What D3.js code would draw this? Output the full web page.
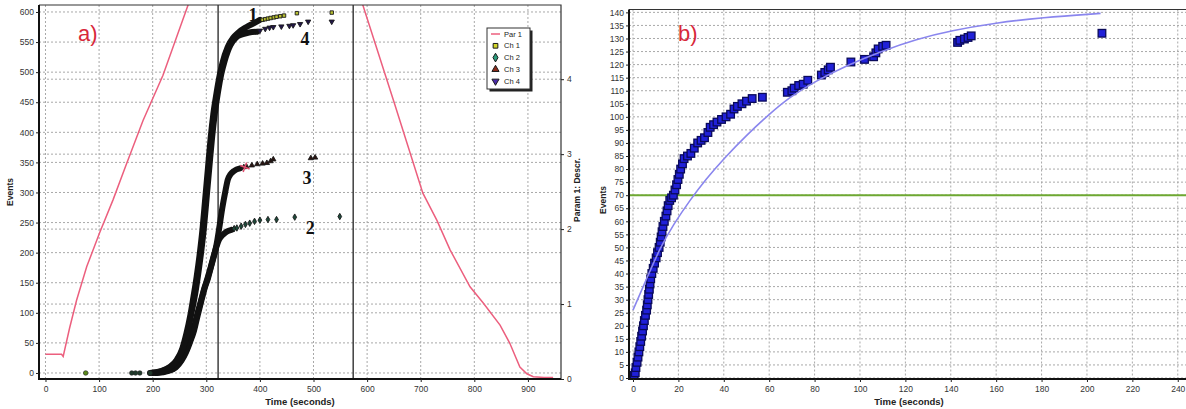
<!DOCTYPE html>
<html>
<head>
    <meta charset="utf-8">
    <script src="https://d3js.org/d3.v7.min.js"></script>
    <style>
        body { margin: 0; background: #fff; }
        text { font-family: "Liberation Sans", Arial, sans-serif; }
    </style>
</head>
<body>
<script>
    // ---- panel a) data ----
    var timeTicksA = [0, 100, 200, 300, 400, 500, 600, 700, 800, 900];
    var eventTicksA = [0, 50, 100, 150, 200, 250, 300, 350, 400, 450, 500, 550, 600];
    var paramTicksA = [0, 1, 2, 3, 4];
    var cursorsA = [322, 574];

    // Par 1 (right axis units), [time, value]
    var par1 = [[0,0.33],[30,0.33],[33,0.30],[45,0.68],[58,1.05],[77,1.5],[101,1.95],[126,2.39],
        [150,2.85],[182,3.45],[219,4.05],[266,4.99],[445,8.2],[592,4.99],[650,3.7],[704,2.48],
        [730,2.12],[755,1.72],[792,1.23],[817,1.01],[848,0.72],[866,0.48],[885,0.16],[898,0.07],
        [910,0.03],[930,0.02],[947,0.02]];

    // channels: dense part (drawn as a thick trace) and sparse tail points, [time, events]
    var ch1Curve = [[195,0],[215,3],[232,10],[245,22],[255,40],[263,66],[270,95],[275,121],[282,160],
        [288,200],[293,240],[298,290],[303,340],[308,390],[313,430],[319,465],[325,495],[330,515],
        [340,542],[350,557],[360,566],[375,575],[390,582],[400,587]];
    var ch1Dots = [[405,587],[410,588],[415,589],[420,590],[426,591],[431,592],[438,593],[445,594],[469,598],[534,599]];
    var ch4Curve = [[200,0],[220,4],[236,12],[249,26],[258,45],[266,70],[272,98],[278,125],[285,165],
        [291,205],[296,245],[301,295],[306,345],[311,393],[316,432],[322,468],[328,497],[334,518],
        [345,545],[355,557],[368,563],[380,566],[394,567]];
    var ch4Dots = [[400,569],[410,572],[418,574],[425,575],[440,576],[455,577],[462,578],[475,580],[490,584],[534,584]];
    var ch2Curve = [[205,0],[225,3],[240,8],[252,20],[260,33],[268,50],[275,68],[282,94],[290,120],
        [296,140],[301,154],[308,175],[314,195],[319,210],[324,222],[330,229],[338,235],[347,238]];
    var ch2Dots = [[352,240],[357,241],[365,244],[373,247],[381,249],[390,252],[400,254],[415,255],
        [431,255],[465,259],[549,260]];
    var ch3Curve = [[208,0],[228,3],[243,9],[254,21],[262,34],[270,52],[277,70],[284,96],[291,121],
        [297,141],[303,157],[309,177],[315,197],[319,213],[324,240],[330,275],[336,304],[340,321],
        [345,330],[352,336],[363,340]];
    var ch3Dots = [[370,342],[375,343],[385,345],[395,347],[405,348],[413,349],[420,352],[425,355],[495,357],[503,358]];
    var zeroDots = [[75,0],[161,0],[168,0],[176,0],[195,0]];
    var crossMark = [372, 342];

    var curveLabels = [
        {text: "1", t: 387, ev: 595},
        {text: "4", t: 484, ev: 555},
        {text: "3", t: 488, ev: 324},
        {text: "2", t: 494, ev: 241}
    ];
    var legendItems = ["Par 1", "Ch 1", "Ch 2", "Ch 3", "Ch 4"];

    // ---- panel b) data ----
    var timeTicksB = [0, 20, 40, 60, 80, 100, 120, 140, 160, 180, 200, 220, 240];
    var eventTicksB = d3.range(0, 141, 5);
    var thresholdB = 70;
    var blueT = [0,0.5,1,1.3,1.8,2.2,2.6,3,3.4,3.8,4.2,4.6,5,5.5,6,6.3,6.6,6.9,7.2,7.5,7.8,8.3,8.9,9.5,
        10.2,10.8,11.5,12,12.4,12.8,13.2,13.8,14.5,15,15.5,16.2,17,17.8,18.5,19.2,19.8,20.4,21,21.8,
        22.5,24,25.5,27,28.5,30,31.5,33,34,35.5,37,39,41,43,44.5,46,48,50,52.5,57,68,70,71,73,75,77,
        83,84.5,86,87,96,102,106,107,108,110,111.5,143,144,146,147.6,149,206.6];
    var blueV = [0,1,2,4,6,8,10,12,14,16,18,20,22,24,26,28,30,32,34,36,38,40,42,44,
        46,48,50,52,54,56,58,60,62,64,66,68,69,70,72,74,76,78,80,82,
        84,85,86,88,90,91,92,94,96,97,98,99,100,101,103,104,105,106,107,107.5,109.4,110,111,112,112.5,114,
        116,117,118,119,121,122,123,124.5,126,127,127.4,128.5,129.3,129.8,130.4,131,132];
    var fitT = [0,6,12,18,25,32,40,50,60,69,80,95,109,125,140,160,180,206];
    var fitV = [26,38,50,59,68,76,84,93,101,107.5,113.5,120,125,129.8,133,136,138,139.6];

    var W = 1186, H = 409;
    var svg = d3.select("body").append("svg")
        .attr("width", W)
        .attr("height", H);

    var defs = svg.append("defs");
    defs.append("clipPath").attr("id", "clipA")
        .append("rect").attr("x", 39).attr("y", 5).attr("width", 522).attr("height", 374);
    defs.append("clipPath").attr("id", "clipB")
        .append("rect").attr("x", 629).attr("y", 9.5).attr("width", 580).attr("height", 369.5);

    function dotGrid(g, x1, x2, y1, y2) {
        g.append("line")
            .attr("x1", x1).attr("x2", x2).attr("y1", y1).attr("y2", y2)
            .attr("stroke", "#a8a8a8")
            .attr("stroke-width", 1)
            .attr("stroke-dasharray", "2,2");
    }

    // ================= panel a) =================
    var xA = d3.scaleLinear().domain([-12.1, 961.7]).range([39, 561]);
    var yA = d3.scaleLinear().domain([-10, 611.6]).range([379, 5]);
    var pA = d3.scaleLinear().domain([0, 4.99]).range([379, 5]);

    var gridA = svg.append("g");
    timeTicksA.forEach(function(t) { dotGrid(gridA, xA(t), xA(t), 5, 379); });
    eventTicksA.forEach(function(v) { dotGrid(gridA, 39, 561, yA(v), yA(v)); });
    paramTicksA.slice(1).forEach(function(v) { dotGrid(gridA, 39, 561, pA(v), pA(v)); });

    var plotA = svg.append("g").attr("clip-path", "url(#clipA)");

    // cursor lines
    plotA.selectAll(".cursor").data(cursorsA).enter().append("line")
        .attr("x1", xA).attr("x2", xA).attr("y1", 5).attr("y2", 379)
        .attr("stroke", "#222").attr("stroke-width", 1.3);

    plotA.append("path")
        .datum(par1)
        .attr("fill", "none")
        .attr("stroke", "#ec5f7e")
        .attr("stroke-width", 1.5)
        .attr("d", d3.line().x(function(d) { return xA(d[0]); }).y(function(d) { return pA(d[1]); }));

    var chLine = d3.line().curve(d3.curveMonotoneX)
        .x(function(d) { return xA(d[0]); })
        .y(function(d) { return yA(d[1]); });

    [ch2Curve, ch3Curve, ch1Curve, ch4Curve].forEach(function(c) {
        plotA.append("path")
            .datum(c)
            .attr("fill", "none")
            .attr("stroke", "#111")
            .attr("stroke-width", 6)
            .attr("stroke-linecap", "round")
            .attr("d", chLine);
    });

    var symCh = [
        {dots: ch1Dots, type: d3.symbolSquare, fill: "#b8c030", legFill: "#d2d62a", rot: 0},
        {dots: ch2Dots, type: d3.symbolDiamond, fill: "#1d4a3a", legFill: "#2a9a7a", rot: 0},
        {dots: ch3Dots, type: d3.symbolTriangle, fill: "#2a1410", legFill: "#8a2a1a", rot: 0},
        {dots: ch4Dots, type: d3.symbolTriangle, fill: "#22164a", legFill: "#4a2aa8", rot: 180}
    ];
    symCh.forEach(function(s) {
        plotA.append("g").selectAll("path")
            .data(s.dots)
            .enter().append("path")
            .attr("transform", function(d) { return "translate(" + xA(d[0]) + "," + yA(d[1]) + ") rotate(" + s.rot + ")"; })
            .attr("d", d3.symbol().type(s.type).size(12))
            .attr("fill", s.fill)
            .attr("stroke", "#1a1a1a")
            .attr("stroke-width", 0.9);
    });

    plotA.append("g").selectAll("circle")
        .data(zeroDots)
        .enter().append("circle")
        .attr("cx", function(d) { return xA(d[0]); })
        .attr("cy", function(d) { return yA(d[1]); })
        .attr("r", 2.3)
        .attr("fill", function(d, i) { return i == 0 ? "#5a8a1a" : "#1f3a2a"; })
        .attr("stroke", "#222")
        .attr("stroke-width", 0.6);

    plotA.append("path")
        .attr("transform", "translate(" + xA(crossMark[0]) + "," + yA(crossMark[1]) + ") rotate(20)")
        .attr("d", "M-5,0H5M0,-5V5")
        .attr("stroke", "#e05070")
        .attr("stroke-width", 1.5);

    svg.append("g").selectAll("text")
        .data(curveLabels)
        .enter().append("text")
        .attr("x", function(d) { return xA(d.t); })
        .attr("y", function(d) { return yA(d.ev); })
        .attr("dy", "0.35em")
        .attr("text-anchor", "middle")
        .style("font-family", "'Liberation Serif', 'DejaVu Serif', serif")
        .style("font-weight", "bold")
        .style("font-size", "18px")
        .attr("fill", "#111")
        .text(function(d) { return d.text; });

    // frame
    svg.append("path")
        .attr("d", "M39,5H561V379")
        .attr("fill", "none").attr("stroke", "#333").attr("stroke-width", 1.2);
    svg.append("path")
        .attr("d", "M39,5V379H561")
        .attr("fill", "none").attr("stroke", "#111").attr("stroke-width", 2);

    var axA = svg.append("g");
    axA.append("g").attr("transform", "translate(39,0)")
        .call(d3.axisLeft(yA).tickValues(eventTicksA).tickSize(3).tickPadding(2));
    axA.append("g").attr("transform", "translate(0,379)")
        .call(d3.axisBottom(xA).tickValues(timeTicksA).tickSize(3).tickPadding(4));
    axA.append("g").attr("transform", "translate(561,0)")
        .call(d3.axisRight(pA).tickValues(paramTicksA).tickFormat(d3.format("d")).tickSize(3).tickPadding(3));

    svg.append("text")
        .attr("transform", "translate(13,192) rotate(-90)")
        .attr("text-anchor", "middle")
        .style("font-size", "8.5px").style("font-weight", "bold")
        .attr("fill", "#222")
        .text("Events");
    svg.append("text")
        .attr("x", 300).attr("y", 405)
        .attr("text-anchor", "middle")
        .style("font-size", "9.5px").style("font-weight", "bold")
        .attr("fill", "#222")
        .text("Time (seconds)");
    svg.append("text")
        .attr("transform", "translate(580,190) rotate(-90)")
        .attr("text-anchor", "middle")
        .style("font-size", "8.5px").style("font-weight", "bold")
        .attr("fill", "#222")
        .text("Param 1: Descr.");

    svg.append("text")
        .attr("x", 78).attr("y", 41)
        .style("font-size", "22px")
        .attr("fill", "#d8283a")
        .text("a)");

    // legend
    var leg = svg.append("g").attr("transform", "translate(487,28)");
    leg.append("rect").attr("x", 2.5).attr("y", 2.5).attr("width", 43).attr("height", 61).attr("fill", "#222");
    leg.append("rect").attr("width", 43).attr("height", 61).attr("fill", "#fff").attr("stroke", "#333").attr("stroke-width", 1);
    var legRows = leg.selectAll(".row").data(legendItems).enter().append("g")
        .attr("transform", function(d, i) { return "translate(0," + (6 + i * 11.8) + ")"; });
    legRows.append("text")
        .attr("x", 17).attr("dy", "0.35em")
        .style("font-size", "7.5px")
        .attr("fill", "#222")
        .text(function(d) { return d; });
    legRows.each(function(d, i) {
        var g = d3.select(this);
        if (i == 0) {
            g.append("line").attr("x1", 4).attr("x2", 13).attr("stroke", "#ec5f7e").attr("stroke-width", 1.5);
        } else {
            var s = symCh[i - 1];
            g.append("path")
                .attr("transform", "translate(8.5,0) rotate(" + s.rot + ")")
                .attr("d", d3.symbol().type(s.type).size(22))
                .attr("fill", s.legFill).attr("stroke", "#1a1a1a").attr("stroke-width", 1);
        }
    });

    // ================= panel b) =================
    var xB = d3.scaleLinear().domain([-1.76, 249.8]).range([629, 1200]);
    var yB = d3.scaleLinear().domain([-0.38, 141.1]).range([379, 9.5]);

    var gridB = svg.append("g");
    timeTicksB.forEach(function(t) { dotGrid(gridB, xB(t), xB(t), 9.5, 379); });
    eventTicksB.forEach(function(v) { dotGrid(gridB, 629, 1200, yB(v), yB(v)); });

    var plotB = svg.append("g").attr("clip-path", "url(#clipB)");

    plotB.append("line")
        .attr("x1", 629).attr("x2", 1200)
        .attr("y1", yB(thresholdB)).attr("y2", yB(thresholdB))
        .attr("stroke", "#6ea832").attr("stroke-width", 2);

    plotB.append("g").selectAll("rect")
        .data(blueT)
        .enter().append("rect")
        .attr("x", function(d) { return xB(d) - 3.8; })
        .attr("y", function(d, i) { return yB(blueV[i]) - 3.8; })
        .attr("width", 7.6).attr("height", 7.6)
        .attr("fill", "#2020d8")
        .attr("stroke", "#0a0a5a")
        .attr("stroke-width", 1.3);

    plotB.append("path")
        .datum(fitT)
        .attr("fill", "none")
        .attr("stroke", "#8a86ee")
        .attr("stroke-width", 1.6)
        .attr("d", d3.line().curve(d3.curveBasis)
            .x(function(d) { return xB(d); })
            .y(function(d, i) { return yB(fitV[i]); }));

    svg.append("path")
        .attr("d", "M629,9.5H1200")
        .attr("fill", "none").attr("stroke", "#333").attr("stroke-width", 1.2);
    svg.append("path")
        .attr("d", "M629,9.5V379H1200")
        .attr("fill", "none").attr("stroke", "#111").attr("stroke-width", 2);

    var axB = svg.append("g");
    axB.append("g").attr("transform", "translate(629,0)")
        .call(d3.axisLeft(yB).tickValues(eventTicksB).tickSize(3).tickPadding(2));
    axB.append("g").attr("transform", "translate(0,379)")
        .call(d3.axisBottom(xB).tickValues(timeTicksB).tickSize(3).tickPadding(4));

    svg.append("text")
        .attr("transform", "translate(606,200) rotate(-90)")
        .attr("text-anchor", "middle")
        .style("font-size", "8.5px").style("font-weight", "bold")
        .attr("fill", "#222")
        .text("Events");
    svg.append("text")
        .attr("x", 909).attr("y", 405)
        .attr("text-anchor", "middle")
        .style("font-size", "9.5px").style("font-weight", "bold")
        .attr("fill", "#222")
        .text("Time (seconds)");
    svg.append("text")
        .attr("x", 678).attr("y", 41)
        .style("font-size", "22px")
        .attr("fill", "#d8283a")
        .text("b)");

    // axis styling
    svg.selectAll(".domain").remove();
    svg.selectAll(".tick text").style("font-size", "8.5px").attr("fill", "#333");
    svg.selectAll(".tick line").attr("stroke", "#222");
</script>
</body>
</html>
